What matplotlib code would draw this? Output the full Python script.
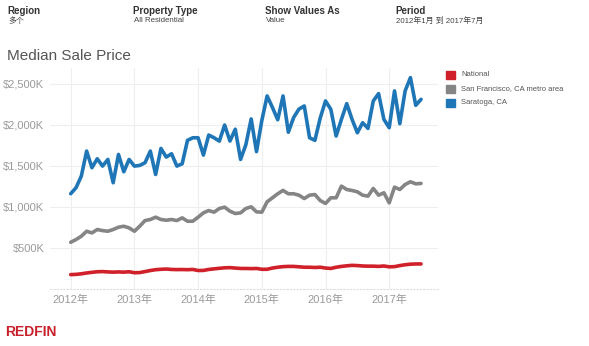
import numpy as np
import matplotlib
matplotlib.use("Agg")
from matplotlib import pyplot as plt
from matplotlib.ticker import FuncFormatter
from matplotlib.patches import Rectangle

plt.rcParams["font.family"] = ["Liberation Sans", "Noto Sans CJK SC", "DejaVu Sans"]

# 月度中位成交价（千美元），2012年1月 到 2017年7月
national = [175, 178, 185, 195, 203, 210, 212, 208, 205, 208, 205, 210,
            198, 200, 212, 225, 235, 240, 243, 238, 236, 237, 235, 238,
            225, 226, 238, 245, 252, 258, 260, 255, 250, 250, 248, 250,
            240, 240, 255, 265, 272, 275, 275, 270, 265, 265, 262, 265,
            255, 250, 265, 275, 282, 288, 285, 280, 278, 278, 275, 280,
            270, 272, 285, 295, 302, 305, 305]
sf_metro = [569, 602, 642, 703, 683, 724, 711, 703, 724, 752, 764, 744,
            703, 764, 833, 846, 874, 846, 837, 846, 833, 866, 825, 825,
            874, 927, 955, 935, 980, 996, 947, 919, 927, 980, 1000, 939,
            935, 1061, 1110, 1159, 1200, 1159, 1159, 1142, 1101, 1142, 1150, 1077,
            1041, 1110, 1110, 1252, 1211, 1199, 1183, 1142, 1130, 1224, 1142, 1171,
            1049, 1240, 1211, 1272, 1305, 1280, 1285]
saratoga = [1160, 1232, 1374, 1679, 1476, 1585, 1496, 1577, 1293, 1638, 1427, 1577,
            1496, 1504, 1537, 1679, 1394, 1711, 1606, 1646, 1496, 1524, 1809, 1841,
            1841, 1630, 1874, 1841, 1800, 1996, 1801, 1945, 1577, 1758, 2070, 1672,
            2050, 2350, 2210, 2060, 2350, 1908, 2088, 2190, 2228, 1841, 1809, 2080,
            2289, 2187, 1862, 2065, 2256, 2065, 1902, 2024, 1955, 2289, 2378, 2065,
            1963, 2411, 2012, 2411, 2573, 2236, 2309]

series_names = ["National", "San Francisco, CA metro area", "Saratoga, CA"]
series_colors = ["#d0202a", "#858585", "#1f76b7"]
year_ticks = [2012, 2013, 2014, 2015, 2016, 2017]
value_ticks = [500, 1000, 1500, 2000, 2500]

months = 2012 + np.arange(len(saratoga)) / 12.0

fig = plt.figure(figsize=(5.89, 3.46), dpi=100)
ax = fig.add_axes([50 / 589, 1 - 289 / 346, 388 / 589, 221 / 346])

for vals, color in zip([national, sf_metro, saratoga], series_colors):
    ax.plot(months, vals, color=color, lw=2.6, solid_joinstyle="round",
            solid_capstyle="round", zorder=3)

ax.set_xlim(2011.675, 2017.766)
ax.set_ylim(0, 2690)
ax.set_xticks(year_ticks)
ax.set_xticklabels([f"{y}年" for y in year_ticks])
ax.set_yticks(value_ticks)
ax.yaxis.set_major_formatter(FuncFormatter(lambda v, p: f"${v:,.0f}K"))
ax.tick_params(length=0, labelsize=8, colors="#9a9a9a", pad=4)
ax.grid(True, color="#eeeeee", lw=0.8)
ax.set_axisbelow(True)
for s in ["top", "right", "left"]:
    ax.spines[s].set_visible(False)
ax.spines["bottom"].set_color("#dddddd")
ax.spines["bottom"].set_linestyle((0, (1, 2)))

# 顶部筛选条件
header = [("Region", "多个", 7), ("Property Type", "All Residential", 133),
          ("Show Values As", "Value", 265), ("Period", "2012年1月 到 2017年7月", 395)]
for label, value, x in header:
    fig.text(x / 589, 1 - 11 / 346, label, fontsize=7, fontweight="bold",
             color="#333333", va="center")
    fig.text((x + 1) / 589, 1 - 21 / 346, value, fontsize=5.7, color="#444444",
             va="center")

fig.text(7 / 589, 1 - 56 / 346, "Median Sale Price", fontsize=11, color="#555555",
         va="center")

# 图例
for i, (name, color) in enumerate(zip(series_names, series_colors)):
    y = 75 + i * 14
    fig.patches.append(Rectangle((446 / 589, 1 - (y + 4) / 346), 9 / 589, 8 / 346,
                                 transform=fig.transFigure, color=color))
    fig.text(461 / 589, 1 - y / 346, name, fontsize=5.5, color="#555555", va="center")

fig.text(5 / 589, 1 - 332 / 346, "REDFIN", fontsize=10, fontweight="bold",
         color="#c8202b", va="center")

fig.savefig("out.png", dpi=100)
